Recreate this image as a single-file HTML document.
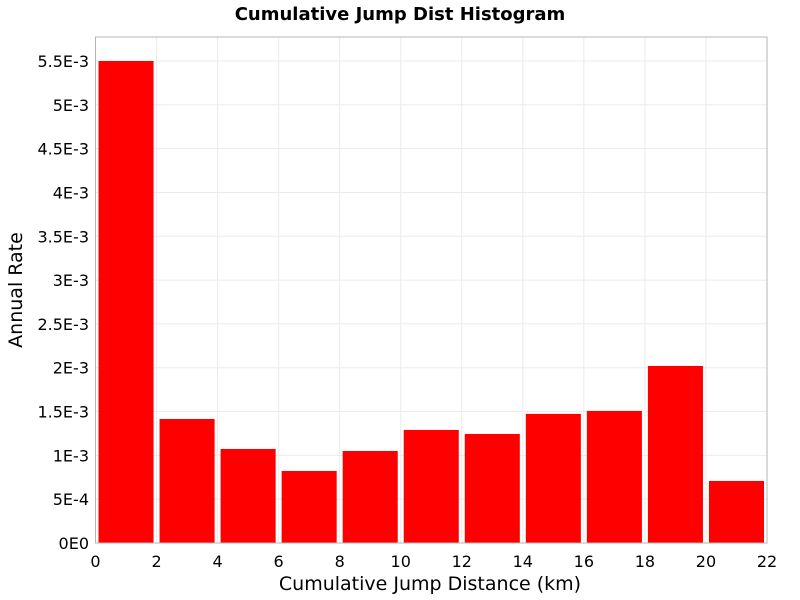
<!DOCTYPE html>
<html><head><meta charset="utf-8"><style>body{margin:0;background:#fff}svg{display:block;font-family:"Liberation Sans","DejaVu Sans",sans-serif}</style></head>
<body>
<svg id="chart" width="800" height="600" xmlns="http://www.w3.org/2000/svg">
<text x="400" y="20" text-anchor="middle" font-size="18" font-weight="bold" font-family="DejaVu Sans, sans-serif">Cumulative Jump Dist Histogram</text>
<g id="grid"></g><g id="bars"></g><g id="axes"></g>
<text x="430" y="590" text-anchor="middle" font-size="19" font-family="DejaVu Sans, sans-serif">Cumulative Jump Distance (km)</text>
<text transform="translate(22,290) rotate(-90)" text-anchor="middle" font-size="19" font-family="DejaVu Sans, sans-serif">Annual Rate</text>
</svg>
<script>
const binStarts=[0,2,4,6,8,10,12,14,16,18,20];
const rates=[5.5e-3,1.415e-3,1.073e-3,0.822e-3,1.05e-3,1.29e-3,1.244e-3,1.473e-3,1.507e-3,2.02e-3,0.708e-3];
const xTicks=[0,2,4,6,8,10,12,14,16,18,20,22];
const yTicks=[0,0.5e-3,1e-3,1.5e-3,2e-3,2.5e-3,3e-3,3.5e-3,4e-3,4.5e-3,5e-3,5.5e-3];
const yLabels=["0E0","5E-4","1E-3","1.5E-3","2E-3","2.5E-3","3E-3","3.5E-3","4E-3","4.5E-3","5E-3","5.5E-3"];
const binWidth=2;
const L=95.5,R=767,T=37,B=543;
const xs=v=>L+(v/22)*(R-L);
const ys=v=>B-(v/5.5e-3)*(B-61);
const NS="http://www.w3.org/2000/svg";
function mk(t,a,p){const e=document.createElementNS(NS,t);for(const k in a)e.setAttribute(k,a[k]);p.appendChild(e);return e;}
const grid=document.getElementById('grid'),bars=document.getElementById('bars'),axes=document.getElementById('axes');
xTicks.forEach((t,i)=>{
 const g=mk('line',{x1:xs(t),x2:xs(t),y1:T,y2:B,stroke:'#ebebeb'},grid);
 
 
 const tx=mk('text',{x:xs(t),y:567,'text-anchor':'middle','font-size':16,'font-family':'DejaVu Sans, sans-serif'},axes);
 tx.textContent=t;
 
 
});
yTicks.forEach((t,i)=>{
 const g=mk('line',{x1:L,x2:R,y1:ys(t),y2:ys(t),stroke:'#ebebeb'},grid);
 
 
 const tx=mk('text',{x:89,y:ys(t)+6,'text-anchor':'end','font-size':16,'font-family':'DejaVu Sans, sans-serif'},axes);
 tx.textContent=yLabels[i];
 
 
});
binStarts.forEach((s,i)=>{
 const x0=xs(s)+3,x1=xs(s+binWidth)-3,y=ys(rates[i]);
 const r=mk('rect',{x:x0,y:y,width:x1-x0,height:B-y,fill:'#ff0000'},bars);
 
 
});
const f=mk('rect',{x:L,y:T,width:R-L,height:B-T,fill:'none',stroke:'#b4b4b4'},axes);


</script>
</body></html>
